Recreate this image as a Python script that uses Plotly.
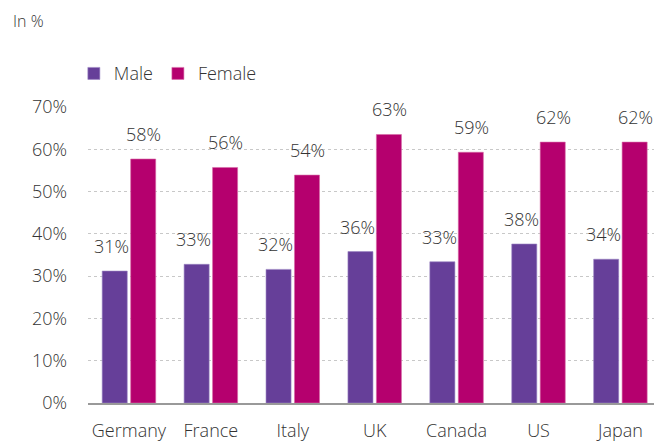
import plotly.graph_objects as go

countries = ["Germany", "France", "Italy", "UK", "Canada", "US", "Japan"]
male = [31.2, 32.8, 31.6, 35.8, 33.4, 37.6, 34.0]
female = [57.7, 55.7, 53.9, 63.5, 59.3, 61.7, 61.7]
male_labels = ["31%", "33%", "32%", "36%", "33%", "38%", "34%"]
female_labels = ["58%", "56%", "54%", "63%", "59%", "62%", "62%"]

PURPLE = "#663f99"
PINK = "#b5006e"
TEXT = "#333333"
FONT = "Open Sans"

fig = go.Figure()
fig.add_trace(go.Bar(x=countries, y=male, name="Male", marker=dict(color=PURPLE, line=dict(color="#9a85c2", width=0.6))))
fig.add_trace(go.Bar(x=countries, y=female, name="Female", marker=dict(color=PINK, line=dict(color="#d66aa6", width=0.6))))

# value labels above each bar
annotations = []
for c, v, t in zip(countries, male, male_labels):
    annotations.append(dict(x=c, y=v, text=t, xref="x", yref="y", showarrow=False,
                            xshift=-17, yshift=25, font=dict(size=18, color=TEXT, family=FONT, weight=300)))
for c, v, t in zip(countries, female, female_labels):
    annotations.append(dict(x=c, y=v, text=t, xref="x", yref="y", showarrow=False,
                            xshift=15, yshift=25, font=dict(size=18, color=TEXT, family=FONT, weight=300)))
annotations.append(dict(x=-77.5 / 566.5, y=1 + 87 / 298, xref="paper", yref="paper", text="In %",
                        showarrow=False, xanchor="left", yanchor="middle",
                        font=dict(size=16, color=TEXT, family=FONT, weight=300)))

fig.update_layout(
    width=654, height=442,
    margin=dict(l=87.5, r=0, t=107, b=37),
    paper_bgcolor="white", plot_bgcolor="white",
    barmode="group", bargap=0.305, bargroupgap=0.12,
    font=dict(family=FONT, color=TEXT, size=18, weight=300),
    legend=dict(orientation="h", x=-0.025, y=1.05, xanchor="left", yanchor="bottom",
                font=dict(size=18, color=TEXT), itemwidth=30, tracegroupgap=0,
                bgcolor="rgba(0,0,0,0)"),
    xaxis=dict(range=[-0.5, 6.41], showgrid=False, showline=True, linecolor="#999999", linewidth=1.5,
               ticks="", ticklabelstandoff=11, tickfont=dict(size=18), fixedrange=True),
    yaxis=dict(range=[0, 70], dtick=10, ticksuffix="%", showgrid=True, gridcolor="#c8c8c8",
               griddash="dot", gridwidth=1, zeroline=False, ticks="", ticklabelstandoff=20,
               tickfont=dict(size=18), fixedrange=True),
    annotations=annotations,
)

fig.write_html("out.html", config={"displayModeBar": False},
               post_script="document.body.style.margin='0';")
